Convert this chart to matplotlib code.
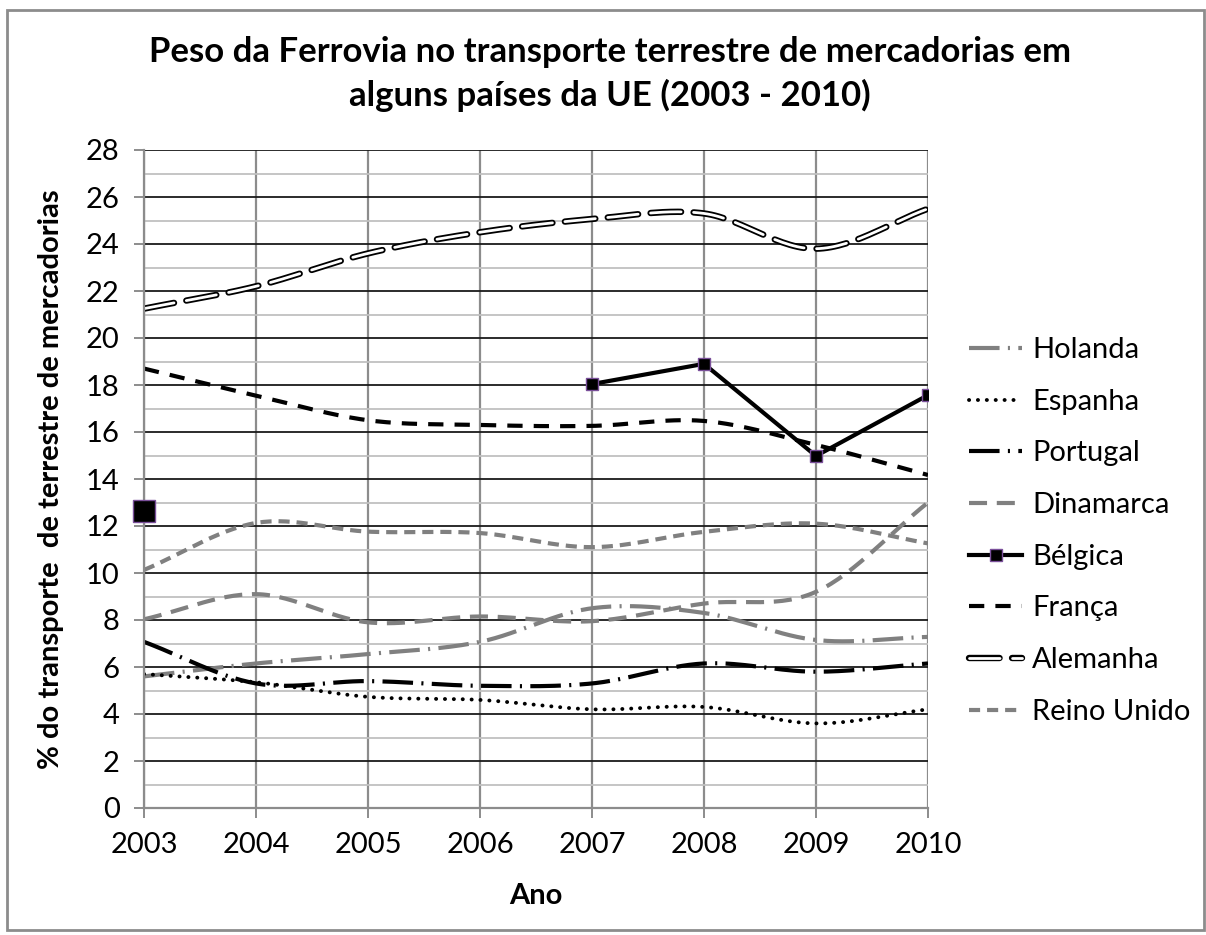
import numpy as np
import matplotlib
matplotlib.use("Agg")
import matplotlib.pyplot as plt
from matplotlib.patches import Rectangle

plt.rcParams["font.family"] = ["Lato", "DejaVu Sans"]
plt.rcParams["lines.scale_dashes"] = False

anos = [2003, 2004, 2005, 2006, 2007, 2008, 2009, 2010]

holanda = [5.6, 6.15, 6.55, 7.07, 8.5, 8.3, 7.15, 7.28]
espanha = [5.7, 5.35, 4.73, 4.6, 4.2, 4.3, 3.6, 4.2]
portugal = [7.07, 5.3, 5.4, 5.2, 5.3, 6.15, 5.8, 6.15]
dinamarca = [8.03, 9.1, 7.9, 8.15, 7.95, 8.7, 9.2, 13.0]
belgica = [12.64, np.nan, np.nan, np.nan, 18.04, 18.9, 14.98, 17.57]
franca = [18.7, 17.55, 16.5, 16.3, 16.26, 16.47, 15.45, 14.17]
alemanha = [21.25, 22.2, 23.6, 24.5, 25.06, 25.3, 23.8, 25.5]
reino_unido = [10.13, 12.13, 11.76, 11.7, 11.1, 11.75, 12.1, 11.26]

GREY = "#808080"


def smooth(x, y, n=30):
    # Catmull-Rom curve through the points (like Excel's smoothed lines)
    x = np.asarray(x, float)
    y = np.asarray(y, float)
    px = np.concatenate([[2 * x[0] - x[1]], x, [2 * x[-1] - x[-2]]])
    py = np.concatenate([[2 * y[0] - y[1]], y, [2 * y[-1] - y[-2]]])
    xs, ys = [], []
    t = np.linspace(0, 1, n, endpoint=False)
    for i in range(1, len(px) - 2):
        for arr, out in ((px, xs), (py, ys)):
            a, b, c, d = arr[i - 1], arr[i], arr[i + 1], arr[i + 2]
            out.extend(0.5 * ((2 * b) + (-a + c) * t + (2 * a - 5 * b + 4 * c - d) * t ** 2
                              + (-a + 3 * b - 3 * c + d) * t ** 3))
    xs.append(x[-1])
    ys.append(y[-1])
    return np.array(xs), np.array(ys)


fig = plt.figure(figsize=(12.06, 9.35), dpi=100)
fig.patches.append(Rectangle((7 / 1206, 5 / 935), 1 - 9 / 1206, 1 - 15 / 935,
                             transform=fig.transFigure, fill=False,
                             edgecolor="#8c8c8c", linewidth=2))
ax = fig.add_axes([144 / 1206, 1 - 808 / 935, 784 / 1206, 658 / 935])

series = [
    ("Holanda", holanda, dict(color=GREY, lw=3.0, dashes=(22, 6, 1.5, 6))),
    ("Espanha", espanha, dict(color="black", lw=2.8, dashes=(0.1, 6.3), dash_capstyle="round")),
    ("Portugal", portugal, dict(color="black", lw=3.0, dashes=(22, 6, 1.5, 6))),
    ("Dinamarca", dinamarca, dict(color=GREY, lw=3.0, dashes=(13, 7))),
    ("Bélgica", belgica, None),
    ("França", franca, dict(color="black", lw=3.0, dashes=(11, 8))),
    ("Alemanha", alemanha, "double"),
    ("Reino Unido", reino_unido, dict(color=GREY, lw=3.0, dashes=(8, 5))),
]

handles = []
for nome, vals, style in series:
    if style is None:
        # Belgium: straight segments with square markers, gaps where data is missing
        h, = ax.plot(anos, vals, color="black", lw=3.0, marker="s", markersize=9,
                     markerfacecolor="black", markeredgecolor="#7a4f9a", markeredgewidth=1,
                     label=nome, zorder=5)
        v = np.asarray(vals)
        for i in range(len(v)):
            left = np.isnan(v[i - 1]) if i > 0 else True
            right = np.isnan(v[i + 1]) if i < len(v) - 1 else True
            if not np.isnan(v[i]) and left and right:
                ax.plot(anos[i], v[i], marker="s", markersize=16, color="black",
                        markeredgecolor="#7a4f9a", markeredgewidth=1, clip_on=False, zorder=6)
    elif style == "double":
        # outlined dashes: black wide line with a thin white line on top
        xs, ys = smooth(anos, vals)
        h1, = ax.plot(xs, ys, color="black", lw=4.6, dashes=(22, 9),
                      dash_capstyle="round", label=nome)
        h2, = ax.plot(xs, ys, color="white", lw=2.0, dashes=(22, 9),
                      dash_capstyle="round")
        h = (h1, h2)
    else:
        xs, ys = smooth(anos, vals)
        h, = ax.plot(xs, ys, label=nome, solid_capstyle="butt", **style)
    handles.append(h)

ax.set_xlim(2003, 2010)
ax.set_ylim(0, 28)
ax.set_xticks(anos)
ax.set_yticks(range(0, 29, 2))
ax.set_yticks(range(0, 29, 1), minor=True)
ax.grid(axis="y", which="major", color="#1a1a1a", lw=1.3, zorder=0)
ax.grid(axis="y", which="minor", color="#c0c0c0", lw=1.3, zorder=0)
ax.grid(axis="x", which="major", color="#8c8c8c", lw=1.6, zorder=0)
ax.set_axisbelow(True)
for s in ("top", "right"):
    ax.spines[s].set_visible(False)
for s in ("left", "bottom"):
    ax.spines[s].set_color("#8c8c8c")
    ax.spines[s].set_linewidth(1.6)
ax.tick_params(axis="both", which="major", labelsize=21, colors="#8c8c8c",
               labelcolor="black", length=7.5, width=1.4, direction="out")
ax.tick_params(axis="y", which="minor", length=0)
ax.tick_params(axis="x", pad=10)
ax.tick_params(axis="y", pad=10)

ax.set_xlabel("Ano", fontsize=21, fontweight="bold", labelpad=18)
ax.set_ylabel("% do transporte  de terrestre de mercadorias", fontsize=21,
              fontweight="bold", labelpad=16)
fig.text(0.506, 0.921, "Peso da Ferrovia no transporte terrestre de mercadorias em\n"
         "alguns países da UE (2003 - 2010)", ha="center", va="center",
         fontsize=25, fontweight="bold", linespacing=1.38)

fig.legend(handles=handles, labels=[s[0] for s in series], loc="center left",
           bbox_to_anchor=(943 / 1206, 1 - 531 / 935),
           frameon=False, fontsize=21, handlelength=1.8, handletextpad=0.35,
           labelspacing=0.88)

fig.savefig("out.png", dpi=100)
